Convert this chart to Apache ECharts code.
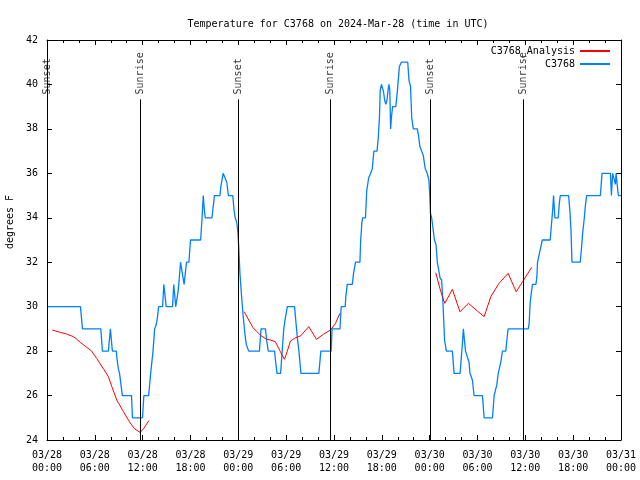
<!DOCTYPE html>
<html><head><meta charset="utf-8">
<script src="https://cdn.jsdelivr.net/npm/echarts@6/dist/echarts.min.js"></script>
<style>html,body{margin:0;padding:0;background:#fff}#c{width:640px;height:480px}</style>
</head><body><div id="c"></div>
<script>
// hours since 2024-03-28 00:00 UTC
var xTickLabels = ['03/28\n00:00','03/28\n06:00','03/28\n12:00','03/28\n18:00','03/29\n00:00','03/29\n06:00','03/29\n12:00','03/29\n18:00','03/30\n00:00','03/30\n06:00','03/30\n12:00','03/30\n18:00','03/31\n00:00'];
var yTicks = [24,26,28,30,32,34,36,38,40,42];

var sunNames = ['Sunset','Sunrise','Sunset','Sunrise','Sunset','Sunrise'];
var sunHours = [0, 11.7, 24.04, 35.58, 48.13, 59.72];

var obsHours = [0,4.2,4.45,6.75,6.95,7.7,7.95,8.08,8.2,8.7,8.75,8.9,8.95,9.1,9.35,9.45,10.6,10.72,11.98,12.15,12.75,13.0,13.3,13.5,13.7,13.85,14.0,14.5,14.65,14.8,14.95,15.75,15.9,16.0,16.15,16.3,16.45,16.6,16.75,17.0,17.2,17.35,17.5,17.8,18.0,19.27,19.45,19.6,19.75,19.85,20.7,21.0,21.7,21.8,22.1,22.35,22.55,22.75,23.3,23.45,23.6,23.8,23.95,24.05,24.2,24.4,24.6,24.85,25.0,25.3,26.64,26.85,27.4,27.55,27.75,28.55,28.65,28.85,29.3,29.5,29.7,29.9,30.15,31.05,31.2,31.4,31.6,31.85,34.1,34.35,35.64,35.76,36.75,36.9,37.4,37.5,37.66,38.3,38.45,38.6,38.7,39.25,39.35,39.5,39.6,39.95,40.1,40.35,40.6,40.8,40.95,41.0,41.4,41.55,41.7,41.8,41.95,42.1,42.2,42.35,42.5,42.65,42.8,42.9,43.0,43.1,43.2,43.35,43.75,43.95,44.2,44.45,45.25,45.4,45.6,45.75,45.95,46.45,46.6,46.78,47.0,47.2,47.45,47.7,47.9,48.0,48.1,48.25,48.5,48.6,48.8,48.96,49.2,49.3,49.5,49.66,49.75,49.87,50.09,50.85,51.06,51.81,51.98,52.1,52.23,52.36,52.5,52.73,52.94,53.06,53.2,53.36,53.57,54.62,54.83,55.88,56.09,56.43,56.6,56.92,57.13,57.55,57.68,57.84,60.36,60.48,60.61,60.78,60.9,61.33,61.45,61.53,61.78,61.95,62.12,63.12,63.29,63.42,63.54,63.63,63.71,64.13,64.25,64.38,65.43,65.59,65.72,65.85,66.89,67.06,67.19,67.4,67.52,67.69,69.41,69.62,70.67,70.8,70.88,70.95,71.17,71.3,71.38,71.5,71.67,72];
var obsTemps = [30,30,29,29,28,28,29,29,28,28,27.75,27.75,27.2,27,27,26,26,25,25,26,26,27,28,29,29.2,29.5,30,30,31,31,30,30,31,31,30,30,30.7,31.3,32,32,31,31,32,32,33,33,34,35,34.3,34,34,35,35,35.4,36,36,35.6,35,35,34.4,34,33.8,33.3,32.7,31.5,30.5,29.6,28.7,28.3,28,28,29,29,28.5,28,28,27.6,27,27,28,29,29.5,30,30,29.4,28.6,28,27,27,28,28,29,29,30,30,30.5,31,31,31.5,31.8,32,32,33,33.8,34,34,35.2,35.8,36,36.2,36.8,37,37,37.6,38.5,39.75,40,40,39.7,39.3,39.1,39.3,39.8,40,39.7,38,38.5,39,39,39.7,40.8,41,41,40.2,39.9,38.5,38,38,37.7,37.2,37,36.8,36.2,36,35.7,35.1,34.2,34,34,33,32.8,32,32,31.3,31.2,30.2,29.5,28.5,28,28,27,27,27.75,28.3,29,28.5,28,28,27.5,27,27,26.7,26,26,25,25,26,26.5,27,27.5,28,28,28.5,29,29,29.25,30.2,30.7,31,31,31.35,32,32,32.7,33,33,33.75,34.3,35,35,34,34,34.6,35,35,34.3,33.5,32,32,32.7,33.3,34,34.5,35,35,36,36,35,35,36,36,35.5,36,36,35,35];

var anaHours = [0.67,1.6,2.47,3.3,3.7,4.15,5.0,5.6,6.24,7.08,7.7,8.13,8.75,9.6,10.43,11.0,11.69,12.1,12.77, 18,
  24.75,25.3,25.85,26.35,26.85,27.52,28.02,28.65,29.28,29.78,30.12,30.53,31.16,31.79,32.84,33.8,34.72,35.56,36.19,36.74, 42,
  48.76,49.4,49.9,50.85,51.8,52.86,54.0,54.83,55.67,56.7,57.84,58.85,59.65,60.8];
var anaTemps = [28.95,28.85,28.77,28.65,28.55,28.4,28.17,28.0,27.67,27.2,26.85,26.4,25.8,25.27,24.77,24.5,24.34,24.5,24.87, null,
  29.77,29.4,29.05,28.87,28.69,28.54,28.5,28.42,27.97,27.63,27.97,28.45,28.6,28.68,29.1,28.53,28.77,28.95,29.25,29.7, null,
  31.53,30.67,30.15,30.78,29.77,30.15,29.8,29.55,30.45,31.05,31.5,30.67,31.12,31.77];

var FONT = 'DejaVu Sans Mono';
var chart = echarts.init(document.getElementById('c'), null, {renderer:'canvas'});

function zip(a,b){ var r=[]; for(var i=0;i<a.length;i++) r.push([a[i], b[i]===null?'-':b[i]]); return r; }

var sunLineData = sunHours.map(function(h){ return [{coord:[h,39.33]},{coord:[h,24]}]; });
var sunLabelData = sunHours.map(function(h,i){ return {value:[h,39.55], name:sunNames[i]}; });

var tickCommon = {inside:true, length:5, lineStyle:{color:'#000', width:1}};
chart.setOption({
  animation:false,
  textStyle:{fontFamily:FONT},
  title:{text:'Temperature for C3768 on 2024-Mar-28 (time in UTC)', left:333, top:14, textAlign:'center',
    textStyle:{fontFamily:FONT, fontSize:10, fontWeight:'normal', color:'#000'}},
  legend:{orient:'vertical', right:25, top:41, align:'right', itemGap:3, itemWidth:30, itemHeight:2, icon:'rect',
    data:['C3768_Analysis','C3768'], textStyle:{fontFamily:FONT, fontSize:10, color:'#000'}},
  grid:{left:47, right:19, top:40, bottom:40, show:false, containLabel:false, outerBoundsMode:'none'},
  xAxis:[{type:'value', min:0, max:72, interval:6, position:'bottom',
      axisLine:{show:true, onZero:false, lineStyle:{color:'#000', width:1}},
      axisTick:tickCommon, minorTick:{show:true, splitNumber:3, length:3, lineStyle:{color:'#000'}},
      splitLine:{show:false},
      axisLabel:{fontFamily:FONT, fontSize:10, color:'#000', margin:9, lineHeight:13,
        formatter:function(v){ return xTickLabels[Math.round(v/6)]; }}},
    {type:'value', min:0, max:72, interval:6, position:'top',
      axisLine:{show:true, onZero:false, lineStyle:{color:'#000', width:1}},
      axisTick:tickCommon, minorTick:{show:true, splitNumber:3, length:3, lineStyle:{color:'#000'}},
      splitLine:{show:false}, axisLabel:{show:false}}],
  yAxis:[{type:'value', min:yTicks[0], max:yTicks[yTicks.length-1], interval:2, position:'left',
      name:'degrees F', nameLocation:'middle', nameGap:31, nameRotate:90,
      nameTextStyle:{fontFamily:FONT, fontSize:10, color:'#000', padding:[0,0,0,36]},
      axisLine:{show:true, onZero:false, lineStyle:{color:'#000', width:1}},
      axisTick:tickCommon, splitLine:{show:false},
      axisLabel:{fontFamily:FONT, fontSize:10, color:'#000', margin:9}},
    {type:'value', min:yTicks[0], max:yTicks[yTicks.length-1], interval:2, position:'right',
      axisLine:{show:true, onZero:false, lineStyle:{color:'#000', width:1}},
      axisTick:tickCommon, splitLine:{show:false}, axisLabel:{show:false}}],
  series:[
    {name:'C3768_Analysis', type:'line', data:zip(anaHours, anaTemps), showSymbol:false, symbol:'none',
      connectNulls:false, lineStyle:{color:'#ff0000', width:1}, itemStyle:{color:'#ff0000'}, z:4},
    {name:'C3768', type:'line', data:zip(obsHours, obsTemps), showSymbol:false, symbol:'none',
      lineStyle:{color:'#0080ff', width:1.3}, itemStyle:{color:'#0080ff'}, z:3},
    {name:'sun', type:'scatter', data:sunLabelData, symbolSize:0, silent:true, z:5,
      itemStyle:{color:'#000'},
      label:{show:true, position:'inside', rotate:90, align:'left', verticalAlign:'middle',
        textBorderWidth:0, textBorderColor:'transparent',
        formatter:function(p){ return p.name; }, fontFamily:FONT, fontSize:10, color:'#000'},
      markLine:{silent:true, symbol:'none', label:{show:false}, animation:false,
        lineStyle:{color:'#000', width:1, type:'solid'}, data:sunLineData}}
  ]
});
</script></body></html>
